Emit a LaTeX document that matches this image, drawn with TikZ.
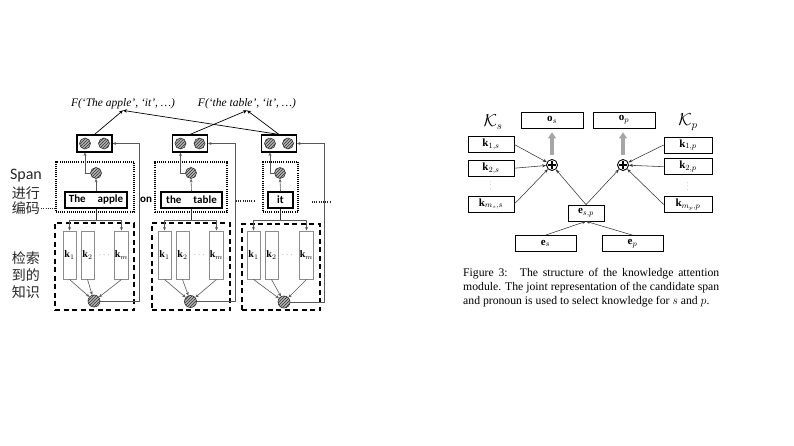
\documentclass[tikz,border=0pt]{standalone}
\usepackage{fontspec}
\setmainfont{Liberation Serif}
\setsansfont{Carlito}
\newfontfamily\cjk{Noto Sans CJK SC}
\usepackage{amsmath,amssymb}
\usetikzlibrary{positioning,arrows.meta,fit,calc,patterns}
\tikzset{
  outbox/.style   = {draw, line width=1.1pt, minimum width=35pt,
                     minimum height=17pt, inner sep=0pt},
  hatch/.style    = {circle, draw=black!80, line width=0.6pt, minimum size=11pt,
                     inner sep=0pt, preaction={fill=black!30},
                     pattern=north east lines, pattern color=black!80},
  word/.style     = {draw, line width=1.3pt, minimum height=16pt, inner sep=2pt,
                     font=\sffamily\bfseries\fontsize{11}{13}\selectfont},
  spanbox/.style  = {draw, line width=1.1pt, dash pattern=on 0.9pt off 1.2pt,
                     inner sep=0pt},
  kbox/.style     = {draw, line width=1.5pt, dash pattern=on 5pt off 3.5pt,
                     inner sep=0pt},
  kbar/.style     = {draw=black!45, line width=0.9pt, minimum width=13pt,
                     minimum height=48pt, inner sep=0pt,
                     font=\fontsize{10}{12}\selectfont},
  dotlbl/.style   = {text=black!55, inner sep=0pt, font=\fontsize{9}{10}\selectfont},
  link/.style     = {-{Stealth[length=3.5pt,width=3pt]}, draw=black!65,
                     line width=0.6pt},
  flink/.style    = {-{Stealth[length=4pt,width=3.5pt]}, line width=0.7pt},
  sep/.style      = {draw=black!85, line width=1.1pt, dash pattern=on 1pt off 1.2pt},
  flbl/.style     = {inner sep=1pt, font=\itshape\fontsize{11.5}{13}\selectfont},
  sidelbl/.style  = {inner sep=1pt, text=black!85, font=\sffamily\fontsize{16}{18}\selectfont},
  cnlbl/.style    = {inner sep=1pt, text=black!85, font=\cjk\fontsize{14}{16}\selectfont},
  rbox/.style     = {draw, line width=0.7pt, minimum width=46pt, minimum height=16pt,
                     inner sep=1pt, font=\fontsize{11}{13}\selectfont},
  ksym/.style     = {inner sep=0pt, font=\fontsize{16}{18}\selectfont},
  vd/.style       = {inner sep=0pt, rotate=90, text=black!50,
                     font=\fontsize{8}{9}\selectfont},
  plusnode/.style = {circle, draw, line width=0.9pt, minimum size=11pt, inner sep=0pt,
                     path picture={\draw[line width=1.1pt]
                       ($(path picture bounding box.center)+(-3.6,0)$) -- ++(7.2,0)
                       ($(path picture bounding box.center)+(0,-3.6)$) -- ++(0,7.2);}},
  arr/.style      = {-{Stealth[length=4pt,width=3pt]}, line width=0.55pt, draw=black!80},
  fatarr/.style   = {-{Triangle[length=6pt,width=8pt]}, line width=3.5pt, draw=black!35},
  caption/.style  = {text width=256pt, align=justify, inner sep=0pt,
                     font=\fontsize{11.7}{14}\selectfont}
}

\begin{document}
\begin{tikzpicture}[x=1pt, y=-1pt, node distance=7pt]
  \useasboundingbox (0,0) rectangle (794,446);

  % ---------------- left figure ----------------
  % Side labels.
  \node[sidelbl] (lspan) at (26,176)   {Span};
  \node[cnlbl]   (lgo)   at (26,193.5) {进行};
  \node[cnlbl]   (lcode) at (26,208.5) {编码};
  \node[cnlbl]   (lret)  at (26,258)   {检索};
  \node[cnlbl]   (lgot)  at (26,275)   {到的};
  \node[cnlbl]   (lknow) at (26,292)   {知识};

  % Scores on top.
  \node[flbl] (f1) at (123,104) {F(`The apple', `it', \ldots)};
  \node[flbl] (f2) at (247,104) {F(`the table', `it', \ldots)};

  % Output pairs.
  \node[outbox] (o1) at (94.5,143.5) {};
  \node[hatch]  (o1a) at ($(o1)+(-9.5,0)$) {};
  \node[hatch]  (o1b) at ($(o1)+(9.5,0)$) {};
  \node[outbox] (o2) at (190,143.5) {};
  \node[hatch]  (o2a) at ($(o2)+(-9.5,0)$) {};
  \node[hatch]  (o2b) at ($(o2)+(9.5,0)$) {};
  \node[outbox] (o3) at (279,143.5) {};
  \node[hatch]  (o3a) at ($(o3)+(-9,0)$) {};
  \node[hatch]  (o3b) at ($(o3)+(9,0)$) {};

  \draw[flink] (o1.north) -- (f1.south);
  \draw[flink] (o3.north) -- (f1.south);
  \draw[flink] (o2.north) -- (f2.south);
  \draw[flink] (o3.north) -- (f2.south);

  % Span encoders (dotted).
  \node[spanbox, fit={(56,162) (134,212)}]  (s1) {};
  \node[spanbox, fit={(155,162) (227,212)}] (s2) {};
  \node[spanbox, fit={(263,162) (298,212)}] (s3) {};

  \node[word, minimum width=62pt] (w1) at (96,200)    {The\hspace{12pt}apple};
  \node[word, minimum width=61pt] (w2) at (191.5,200) {the\hspace{12pt}table};
  \node[word, minimum width=25pt] (w3) at (280.5,200) {it};
  \node[inner sep=0pt, font=\sffamily\bfseries\fontsize{11}{13}\selectfont]
       (on) at (146,200) {on};

  \node[hatch] (c1) at (96,173)  {};
  \node[hatch] (c2) at (191,173) {};
  \node[hatch] (c3) at (280,173) {};

  \draw[link] (w1.north) -- (c1.south);
  \draw[link] (w2.north) -- (c2.south);
  \draw[link] (w3.north) -- (c3.south);
  \draw[link] (c1.west) -| (o1a |- o1.south);
  \draw[link] (c2.west) -| (o2a |- o2.south);
  \draw[link] (c3.west) -| (o3a |- o3.south);

  % Dotted separators.
  \draw[sep] (lcode.east) -- (lcode.east -| s1.west);
  \coordinate (d1a) at (236,201);
  \coordinate (d1b) at (255,201);
  \coordinate (d2a) at (312,202);
  \coordinate (d2b) at (331,202);
  \draw[sep] (d1a) -- (d1b);
  \draw[sep] (d2a) -- (d2b);

  % Retrieved knowledge (dashed).
  \node[kbox, fit={(55,223) (134,310)}]  (K1) {};
  \node[kbox, fit={(152,223) (230,310)}] (K2) {};
  \node[kbox, fit={(242,224) (320,310)}] (K3) {};

  \node[kbar]   (b11) at (69.5,255)  {$\mathbf{k}_1$};
  \node[kbar]   (b12) at (87.5,255)  {$\mathbf{k}_2$};
  \node[dotlbl] (b1d) at (105,255)   {$\cdots$};
  \node[kbar]   (b1m) at (121.5,255) {$\mathbf{k}_m$};

  \node[kbar]   (b21) at (164.5,255) {$\mathbf{k}_1$};
  \node[kbar]   (b22) at (182.5,255) {$\mathbf{k}_2$};
  \node[dotlbl] (b2d) at (200,255)   {$\cdots$};
  \node[kbar]   (b2m) at (216.5,255) {$\mathbf{k}_m$};

  \node[kbar]   (b31) at (253.5,255) {$\mathbf{k}_1$};
  \node[kbar]   (b32) at (271.5,255) {$\mathbf{k}_2$};
  \node[dotlbl] (b3d) at (288,255)   {$\cdots$};
  \node[kbar]   (b3m) at (306.5,255) {$\mathbf{k}_m$};

  \node[hatch, minimum size=12pt] (g1) at (94,301)    {};
  \node[hatch, minimum size=12pt] (g2) at (190.5,301.5) {};
  \node[hatch, minimum size=12pt] (g3) at (284,302)   {};

  % Word box fans out to its knowledge.
  \draw[draw=black!80, line width=0.6pt] (w1.south) -- ++(0,12) coordinate (br1);
  \draw[draw=black!80, line width=0.6pt] (w2.south) -- ++(0,12) coordinate (br2);
  \draw[draw=black!80, line width=0.6pt] (w3.south) -- ++(0,12) coordinate (br3);
  \draw[link] (br1) -| (b11.north);
  \draw[link] (br1) -| (b1m.north);
  \draw[link] (br2) -| (b21.north);
  \draw[link] (br2) -| (b2m.north);
  \draw[link] (br3) -| (b31.north);
  \draw[link] (br3) -| (b3m.north);

  % Knowledge pooled into one vector.
  \draw[link] (b11.south) -- (g1);
  \draw[link] (b12.south) -- (g1);
  \draw[link] (b1m.south) -- (g1);
  \draw[link] (b21.south) -- (g2);
  \draw[link] (b22.south) -- (g2);
  \draw[link] (b2m.south) -- (g2);
  \draw[link] (b31.south) -- (g3);
  \draw[link] (b32.south) -- (g3);
  \draw[link] (b3m.south) -- (g3);

  % Back up into the output pairs.
  \draw[link] (g1.east) -| ($(o1.east)+(27,0)$) -- (o1.east);
  \draw[link] (g2.east) -| ($(o2.east)+(27,0)$) -- (o2.east);
  \draw[link] (g3.east) -| ($(o3.east)+(27,0)$) -- (o3.east);

  % ---------------- right figure ----------------
  \node[ksym] (Ks) at (493,122) {$\mathcal{K}_s$};
  \node[ksym] (Kp) at (688,122) {$\mathcal{K}_p$};

  \node[rbox, minimum width=62pt] (os) at (552,120) {$\mathbf{o}_s$};
  \node[rbox, minimum width=62pt] (op) at (624,120) {$\mathbf{o}_p$};

  \node[rbox]                (k1s) at (491,144.5) {$\mathbf{k}_{1,s}$};
  \node[rbox, below=of k1s]  (k2s) {$\mathbf{k}_{2,s}$};
  \node[vd]                  (kds) at (491,185) {$\cdots$};
  \node[rbox]                (kms) at (491,204) {$\mathbf{k}_{m_s,s}$};

  \node[rbox, minimum width=48pt] (k1p) at (688,145) {$\mathbf{k}_{1,p}$};
  \node[rbox, minimum width=48pt, below=5pt of k1p] (k2p) {$\mathbf{k}_{2,p}$};
  \node[vd]                       (kdp) at (688,186) {$\cdots$};
  \node[rbox, minimum width=48pt] (kmp) at (688,204.5) {$\mathbf{k}_{m_p,p}$};

  \node[plusnode] (ps) at (552,165) {};
  \node[plusnode] (pp) at (623,165) {};

  \node[rbox, minimum width=36pt] (esp) at (586,213)     {$\mathbf{e}_{s,p}$};
  \node[rbox, minimum width=61pt] (es)  at (545.5,243.5) {$\mathbf{e}_s$};
  \node[rbox, minimum width=61pt] (ep)  at (632.5,243.5) {$\mathbf{e}_p$};

  \draw[arr] (k1s.east) -- (ps);
  \draw[arr] (k2s.east) -- (ps);
  \draw[arr] (kms.east) -- (ps);
  \draw[arr] (k1p.west) -- (pp);
  \draw[arr] (k2p.west) -- (pp);
  \draw[arr] (kmp.west) -- (pp);
  \draw[arr] (esp.north) -- (ps);
  \draw[arr] (esp.north) -- (pp);
  \draw[arr] (es.north) -- (esp.south);
  \draw[arr] (ep.north) -- (esp.south);

  \draw[fatarr, shorten <=4pt, shorten >=4pt] (ps.north) -- (os.south);
  \draw[fatarr, shorten <=4pt, shorten >=4pt] (pp.north) -- (pp.north |- op.south);

  % Caption.
  \node[caption, anchor=north west] (cap) at (463,268) {\hyphenpenalty=10000
    Figure 3:~ The structure of the knowledge attention module. The joint
    representation of the candidate span and pronoun is used to select
    knowledge for $s$ and $p$.};

\end{tikzpicture}
\end{document}
